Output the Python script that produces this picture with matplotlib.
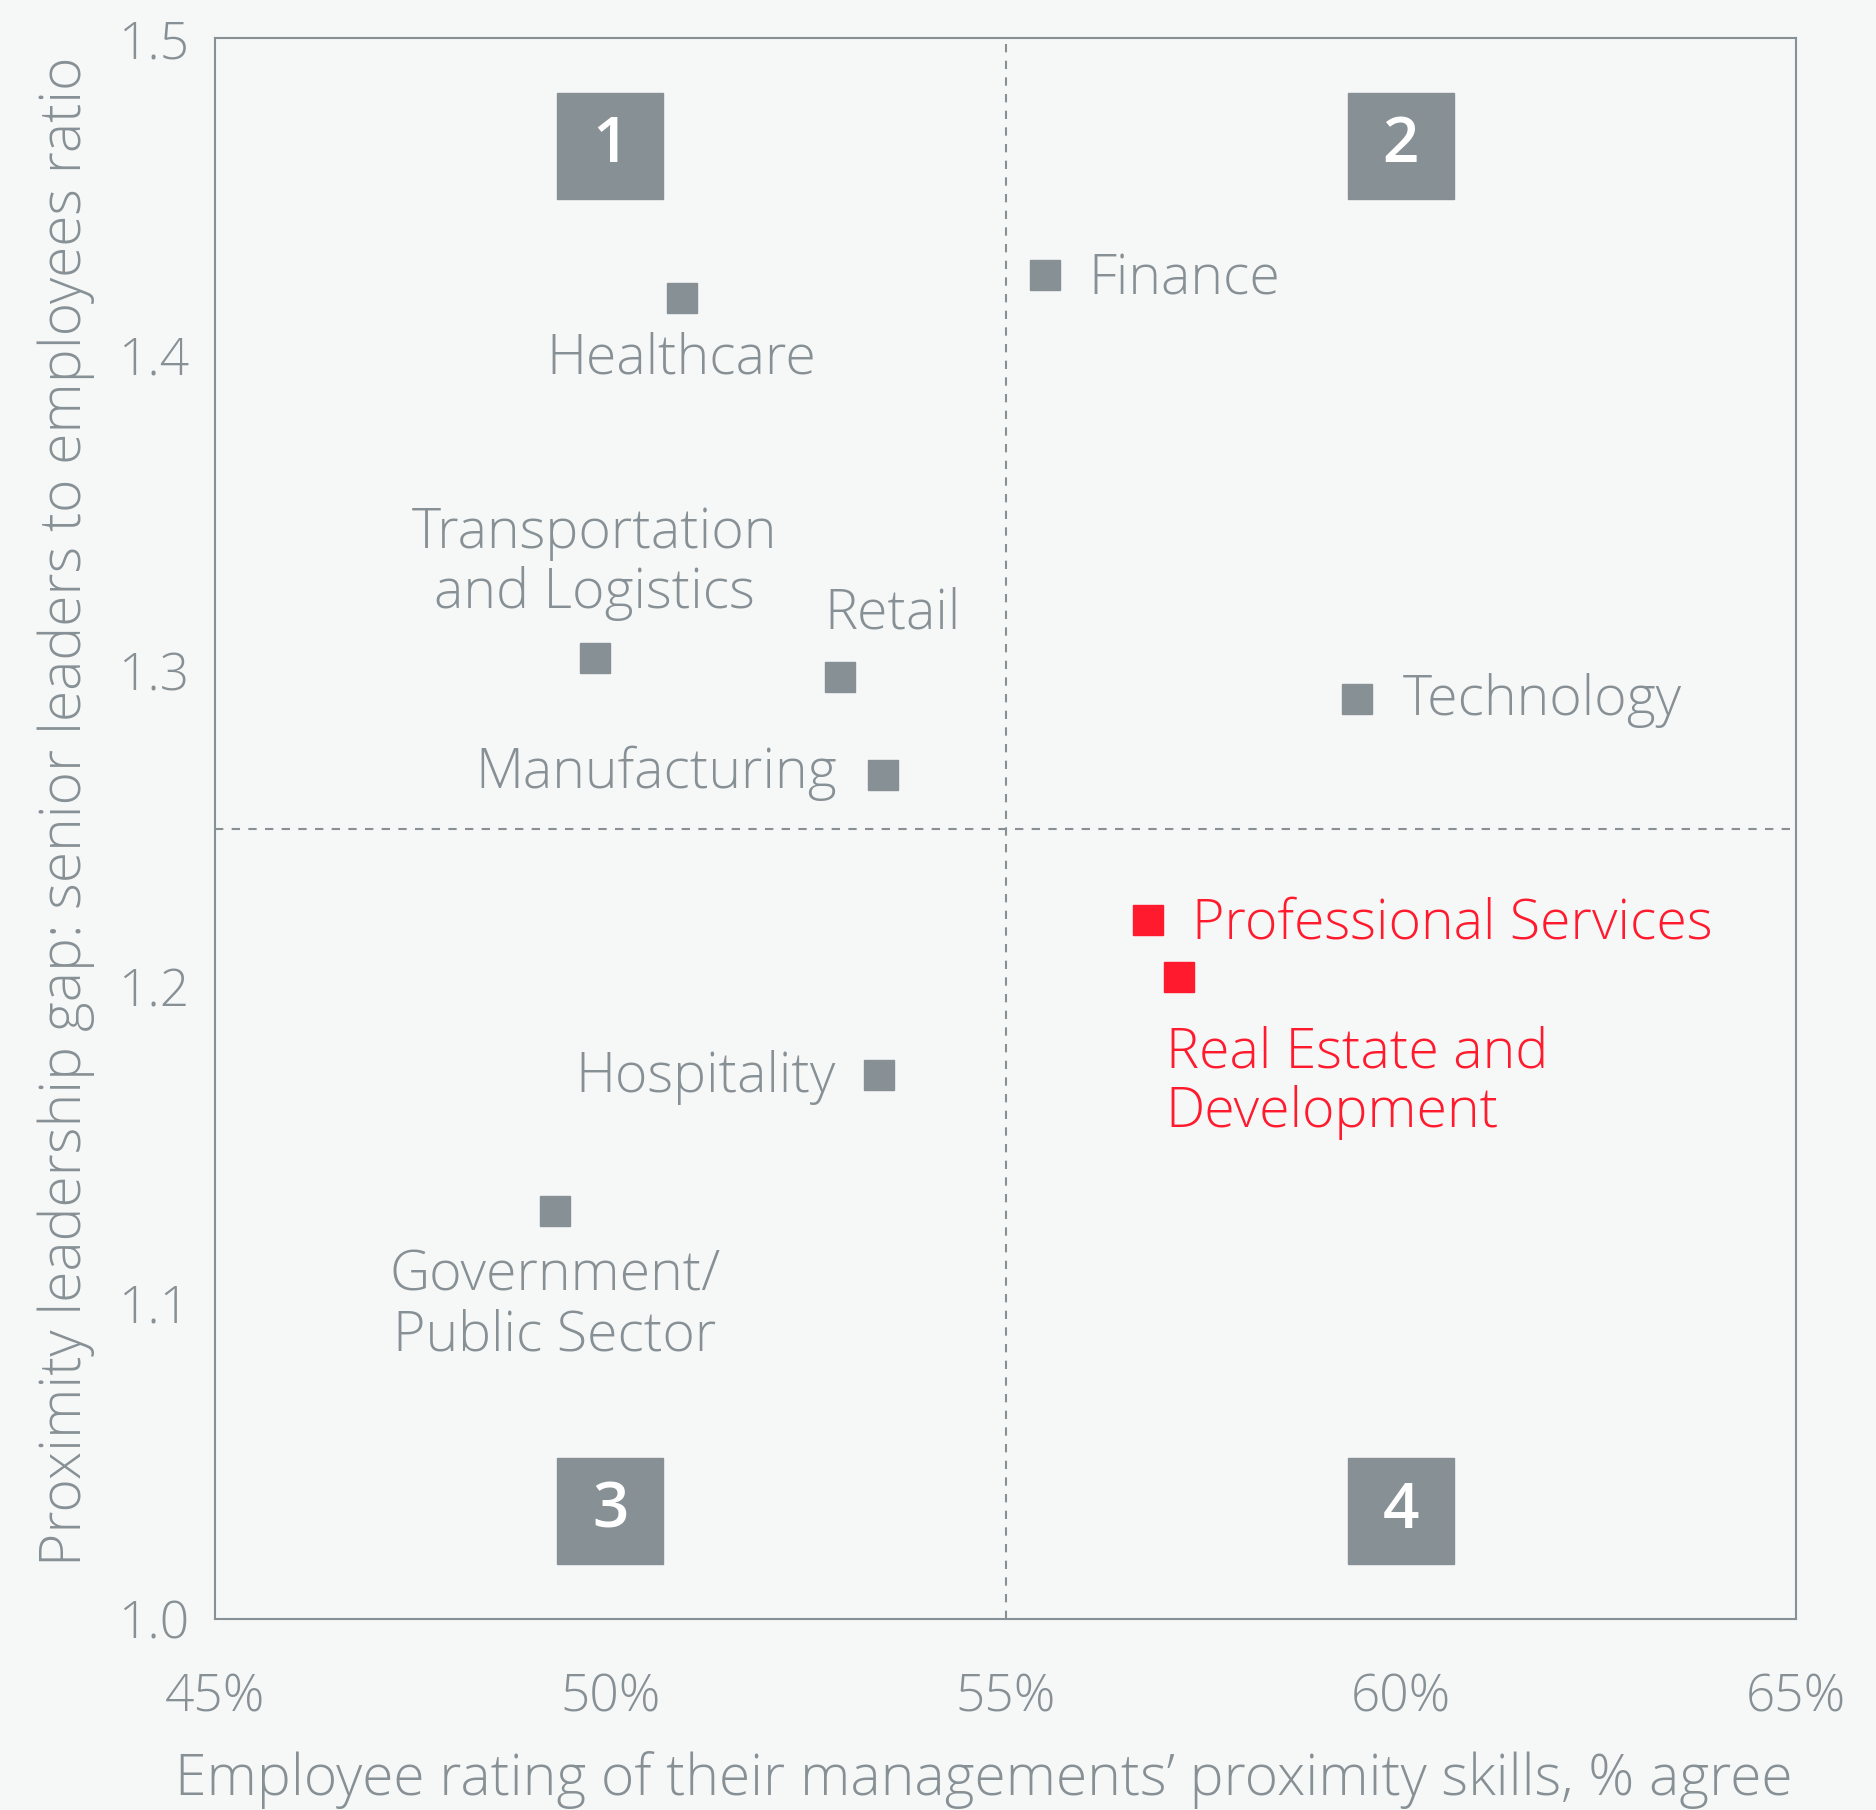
import matplotlib.pyplot as plt

plt.rcParams['font.family'] = ['Open Sans', 'DejaVu Sans']

# data
sectors = ["Healthcare", "Finance", "Transportation\nand Logistics", "Retail",
           "Manufacturing", "Technology", "Professional Services",
           "Real Estate and\nDevelopment", "Hospitality", "Government/\nPublic Sector"]
rating = [50.9, 55.5, 49.8, 52.9, 53.45, 59.45, 56.8, 57.2, 53.4, 49.3]
gap = [1.418, 1.425, 1.304, 1.298, 1.267, 1.291, 1.221, 1.203, 1.172, 1.129]
highlight = [False, False, False, False, False, False, True, True, False, False]

# label offsets (points) and alignment
offsets = [(0, -44, 'center'), (31, -3, 'left'), (0, 68, 'center'), (38, 45, 'center'),
           (-33, 1, 'right'), (33, -1, 'left'), (32, -3, 'left'), (-10, -76, 'left'),
           (-31, -2, 'right'), (0, -68, 'center')]

quad_x = [50, 60, 50, 60]
quad_y = [1.466, 1.466, 1.034, 1.034]
quad_labels = ["1", "2", "3", "4"]

gray = "#879095"
red = "#FF1A2D"
bg = "#F6F7F7"

fig = plt.figure(figsize=(18.76, 18.10), dpi=100, facecolor=bg)
ax = fig.add_axes([0.1148, 0.1056, 0.8425, 0.8732], facecolor=bg)

ax.axvline(55, color=gray, linestyle=(0, (4, 4)), linewidth=1.5)
ax.axhline(1.25, color=gray, linestyle=(0, (4, 4)), linewidth=1.5)

for x, y, name, hl, (dx, dy, ha) in zip(rating, gap, sectors, highlight, offsets):
    c = red if hl else gray
    ax.plot(x, y, marker='s', markersize=22, color=c, linestyle='none')
    ax.annotate(name, (x, y), xytext=(dx, dy), textcoords='offset points',
                ha=ha, va='center', fontsize=40, color=c, linespacing=1.12,
                fontweight='light')

for x, y, t in zip(quad_x, quad_y, quad_labels):
    ax.plot(x, y, marker='s', markersize=77, color=gray, linestyle='none')
    ax.text(x, y, t, ha='center', va='center', fontsize=46, color='white',
            fontweight='semibold')

ax.set_xlim(45, 65)
ax.set_ylim(1.0, 1.5)
ax.set_xticks([45, 50, 55, 60, 65])
ax.set_xticklabels(["45%", "50%", "55%", "60%", "65%"])
ax.set_yticks([1.0, 1.1, 1.2, 1.3, 1.4, 1.5])
ax.set_yticklabels(["1.0", "1.1", "1.2", "1.3", "1.4", "1.5"])
ax.tick_params(length=0, labelsize=37, labelcolor=gray)
ax.tick_params(axis='x', pad=38)
ax.tick_params(axis='y', pad=19)
for lbl in ax.get_xticklabels() + ax.get_yticklabels():
    lbl.set_fontweight('light')

for s in ax.spines.values():
    s.set_color(gray)
    s.set_linewidth(1.5)

ax.set_xlabel("Employee rating of their managements\u2019 proximity skills, % agree",
              fontsize=41, color=gray, va='center', fontweight='light')
ax.xaxis.set_label_coords(0.486, -0.102)
ax.set_ylabel("Proximity leadership gap: senior leaders to employees ratio",
              fontsize=41, color=gray, va='center', fontweight='light')
ax.yaxis.set_label_coords(-0.0946, 0.511)

fig.savefig("out.png", dpi=100, facecolor=bg)
